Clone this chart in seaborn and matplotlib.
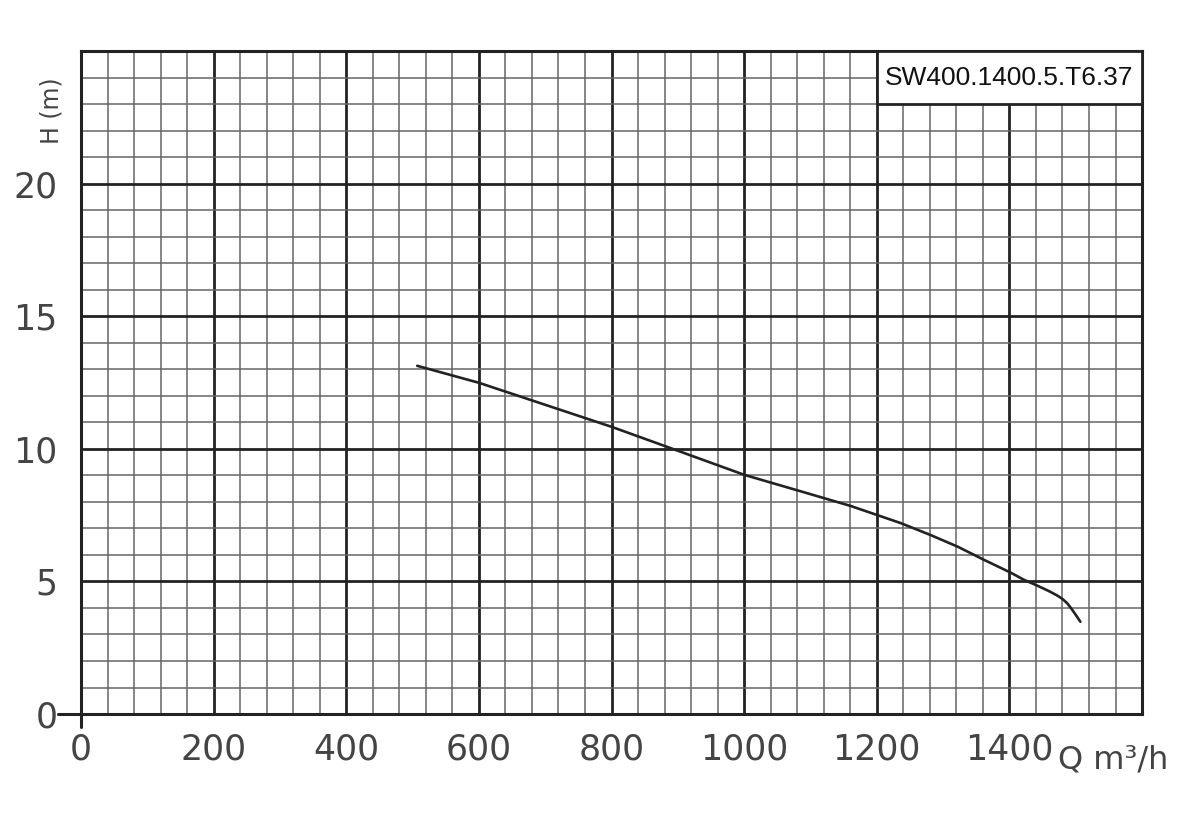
import numpy as np
import pandas as pd
import seaborn as sns
import matplotlib.pyplot as plt
from matplotlib.patches import Rectangle

# pump curve (Q in m3/h, H in m)
flow = [507, 600, 700, 800, 892, 1000, 1085, 1160, 1236, 1281, 1322, 1362,
        1402, 1422, 1443, 1460, 1472, 1480, 1487, 1493, 1500, 1507]
head = [13.13, 12.49, 11.66, 10.83, 10.0, 9.02, 8.4, 7.85, 7.2, 6.75, 6.31, 5.81,
        5.33, 5.06, 4.83, 4.63, 4.47, 4.34, 4.18, 3.99, 3.74, 3.48]

x_ticks = [0, 200, 400, 600, 800, 1000, 1200, 1400]
y_ticks = [0, 5, 10, 15, 20]
model = "SW400.1400.5.T6.37"

df = pd.DataFrame({'Q': flow, 'H': head})

sns.set_style('white')
plt.rcParams['font.family'] = ['Liberation Sans Narrow', 'DejaVu Sans']

fig = plt.figure(figsize=(12, 8.32), dpi=100)
ax = fig.add_axes([0.0675, 0.1418, 0.8842, 0.7969])

sns.lineplot(data=df, x='Q', y='H', sort=False, estimator=None,
             color='#222222', linewidth=1.9, ax=ax, zorder=3)

ax.set_xlim(0, 1600)
ax.set_ylim(0, 25)
ax.set_xticks(np.arange(0, 1601, 40), minor=True)
ax.set_yticks(np.arange(0, 26, 1), minor=True)
ax.set_xticks(list(range(0, 1601, 200)), labels=[str(v) for v in x_ticks] + [''])
ax.set_yticks(list(range(0, 26, 5)), labels=[str(v) for v in y_ticks] + [''])

ax.set_axisbelow(True)
ax.grid(which='major', color='#222222', linewidth=2.0)
ax.grid(which='minor', color='#666666', linewidth=1.1)
ax.tick_params(which='both', length=0)
ax.tick_params(axis='x', pad=13, labelsize=25, labelcolor='#444444')
ax.tick_params(axis='y', pad=17, labelsize=25, labelcolor='#444444')
for s in ax.spines.values():
    s.set_visible(True)
    s.set_color('#222222')
    s.set_linewidth(2.2)

ax.set_xlabel('')
ax.set_ylabel('')

# small extensions of the axes at the origin
ax.plot([0, 0], [0, -0.5], color='#222222', lw=2.2, clip_on=False)
ax.plot([-35, 0], [0, 0], color='#222222', lw=2.2, clip_on=False)

# model box in the top right corner
ax.add_patch(Rectangle((1200, 23), 400, 2, facecolor='white', edgecolor='#222222',
                       linewidth=2.0, zorder=4, clip_on=False))
ax.text(1400, 24, model, ha='center', va='center', fontsize=19,
        family=['Liberation Sans', 'DejaVu Sans'], color='#111111', zorder=5)

# axis titles
ax.text(-45, 22.75, 'H (m)', rotation=90, ha='center', va='center',
        fontsize=17, color='#444444', clip_on=False)
ax.text(1473, -1.15, 'Q m³/h', ha='left', va='top',
        fontsize=23, color='#444444', clip_on=False)

fig.savefig('out.png', dpi=100, facecolor='white')
